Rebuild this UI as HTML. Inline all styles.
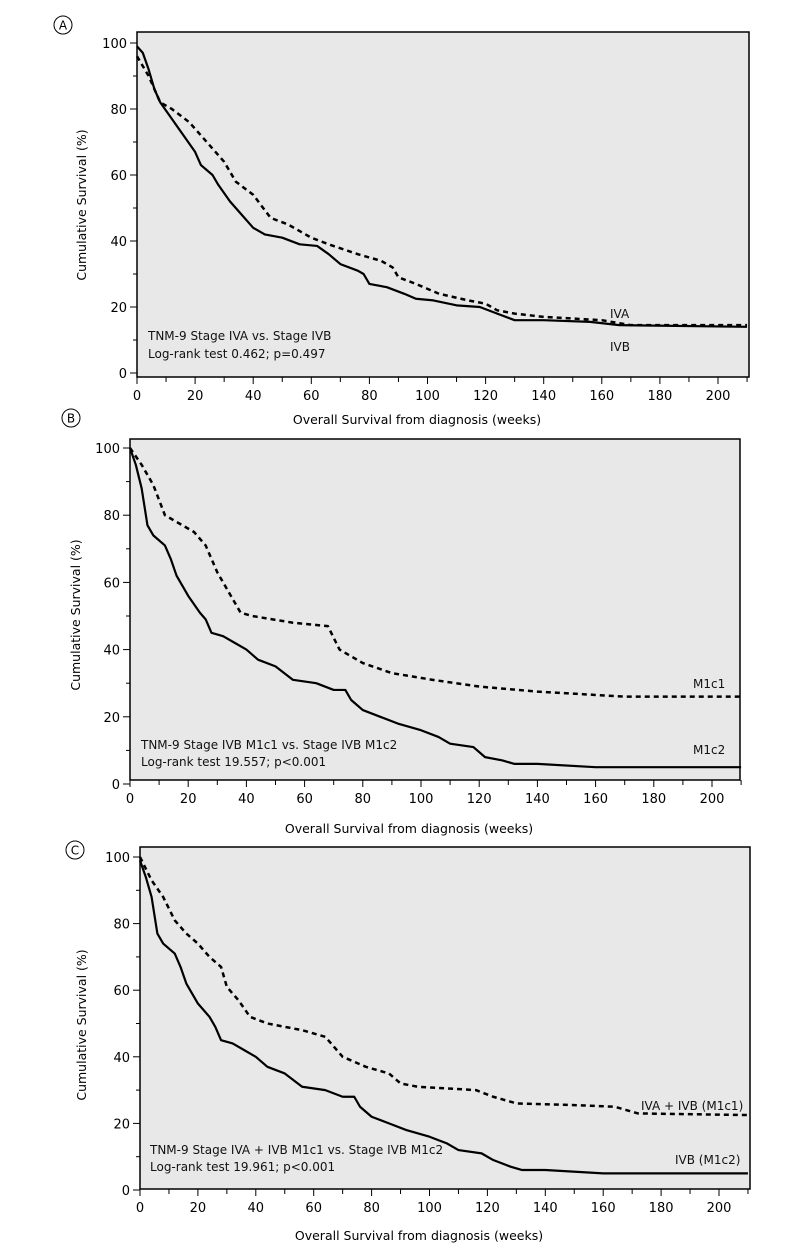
<!DOCTYPE html>
<html><head><meta charset="utf-8">
<style>
body{margin:0;background:#fff;}
svg{display:block;font-family:"DejaVu Sans","Liberation Sans",sans-serif;}
</style></head>
<body>
<svg id="chart" width="800" height="1249" viewBox="0 0 800 1249"></svg>
<script>
// Panel A data
const weeksA_IVB = [0,2,4,6,8,12,16,20,22,26,28,32,36,40,44,50,56,62,66,70,76,78,80,86,92,96,102,110,118,124,130,140,156,166,210];
const survA_IVB = [99,97,92,86,82,77,72,67,63,60,57,52,48,44,42,41,39,38.5,36,33,31,30,27,26,24,22.5,22,20.5,20,18,16,16,15.5,14.5,14];
const weeksA_IVA = [0,4,8,12,18,24,30,34,40,46,52,60,66,76,84,88,90,96,104,114,120,124,130,140,150,160,170,210];
const survA_IVA = [96,90,82,80,76,70,64,58,54,47,45,41,39,36,34,32,29,27,24,22,21,19,18,17,16.5,16,14.5,14.5];
// Panel B data
const weeksB_M1c2 = [0,2,4,6,8,12,14,16,20,24,26,28,32,36,40,44,50,56,64,70,74,76,80,86,92,100,106,110,118,122,128,132,140,160,210];
const survB_M1c2 = [100,95,88,77,74,71,67,62,56,51,49,45,44,42,40,37,35,31,30,28,28,25,22,20,18,16,14,12,11,8,7,6,6,5,5];
const weeksB_M1c1 = [0,4,8,12,16,22,26,30,34,38,42,56,68,72,80,90,104,120,140,170,210];
const survB_M1c1 = [100,95,89,80,78,75,71,63,57,51,50,48,47,40,36,33,31,29,27.5,26,26];
// Panel C data
const weeksC_M1c2 = [0,2,4,6,8,12,14,16,20,24,26,28,32,36,40,44,50,56,64,70,74,76,80,86,92,100,106,110,118,122,128,132,140,160,210];
const survC_M1c2 = [99,94,88,77,74,71,67,62,56,52,49,45,44,42,40,37,35,31,30,28,28,25,22,20,18,16,14,12,11,9,7,6,6,5,5];
const weeksC_M1c1 = [0,4,8,12,16,20,24,28,30,34,38,44,56,64,70,78,86,90,96,116,122,130,150,164,172,210];
const survC_M1c1 = [100,93,88,81,77,74,70,67,61,57,52,50,48,46,40,37,35,32,31,30,28,26,25.5,25,23,22.5];
const xTicks = [0,20,40,60,80,100,120,140,160,180,200];
const yTicks = [0,20,40,60,80,100];

const NS="http://www.w3.org/2000/svg";
const svg=document.getElementById('chart');
function mk(tag,attrs,parent){const e=document.createElementNS(NS,tag);for(const k in attrs)e.setAttribute(k,attrs[k]);(parent||svg).appendChild(e);return e;}

const panels=[
 {id:'a',letter:'A',L:137,R:749,T:32,B:377,y100:43,y0:373,x200:718,cx:63,cy:25,ytx:86,ytY:205,xtY:424,
  series:[[weeksA_IVB,survA_IVB,false,'ivb-curve'],[weeksA_IVA,survA_IVA,true,'iva-curve']],
  ann:[['TNM-9 Stage IVA vs. Stage IVB',148,340],['Log-rank test 0.462; p=0.497',148,358]],
  labels:[['IVA',610,318,'iva-label'],['IVB',610,351,'ivb-label']]},
 {id:'b',letter:'B',L:130,R:740,T:439,B:780,y100:448,y0:784,x200:712,cx:71,cy:418,ytx:80,ytY:615,xtY:833,
  series:[[weeksB_M1c2,survB_M1c2,false,'m1c2-curve'],[weeksB_M1c1,survB_M1c1,true,'m1c1-curve']],
  ann:[['TNM-9 Stage IVB M1c1 vs. Stage IVB M1c2',141,749],['Log-rank test 19.557; p<0.001',141,766]],
  labels:[['M1c1',693,688,'m1c1-label'],['M1c2',693,754,'m1c2-label']]},
 {id:'c',letter:'C',L:140,R:750,T:847,B:1189,y100:857,y0:1190,x200:719,cx:75,cy:850,ytx:86,ytY:1025,xtY:1240,
  series:[[weeksC_M1c2,survC_M1c2,false,'ivb-m1c2-curve'],[weeksC_M1c1,survC_M1c1,true,'iva-ivb-m1c1-curve']],
  ann:[['TNM-9 Stage IVA + IVB M1c1 vs. Stage IVB M1c2',150,1154],['Log-rank test 19.961; p<0.001',150,1171]],
  labels:[['IVA + IVB (M1c1)',641,1110,'iva-ivb-m1c1-label'],['IVB (M1c2)',675,1164,'ivb-m1c2-label']]}
];

panels.forEach(p=>{
 const g=mk('g',{});
 
 
 const X=w=>p.L+(w/200)*(p.x200-p.L);
 const Y=v=>p.y0+(v/100)*(p.y100-p.y0);
 const bg=mk('rect',{x:p.L,y:p.T,width:p.R-p.L,height:p.B-p.T,fill:'#e8e8e8',stroke:'#000','stroke-width':1.5},g);
 
 
 for(let v=0;v<=100;v+=10){
  const maj=v%20===0;
  mk('line',{x1:p.L-(maj?7:4),x2:p.L,y1:Y(v),y2:Y(v),stroke:'#000','stroke-width':1},g);
 }
 yTicks.forEach(v=>{
  const t=mk('text',{x:p.L-10,y:Y(v)+5,'text-anchor':'end','font-size':13,fill:'#000'},g);
  t.textContent=v;
  
  
 });
 for(let w=0;w<=210;w+=10){
  const maj=w%20===0;
  mk('line',{x1:X(w),x2:X(w),y1:p.B,y2:p.B+(maj?7:5),stroke:'#000','stroke-width':1},g);
 }
 xTicks.forEach(w=>{
  const t=mk('text',{x:X(w),y:p.B+23,'text-anchor':'middle','font-size':13,fill:'#000'},g);
  t.textContent=w;
  
  
 });
 p.series.forEach(s=>{
  const [ws,vs,dash,name]=s;
  let d='M'+X(ws[0])+','+Y(vs[0]);
  for(let i=1;i<ws.length;i++)d+=' L'+X(ws[i])+','+Y(vs[i]);
  const path=mk('path',{d:d,fill:'none',stroke:'#000','stroke-width':dash?2.5:2.2,'stroke-dasharray':dash?'5,4':'none','stroke-linejoin':'round'},g);
  
  
 });
 p.ann.forEach(a=>{
  const t=mk('text',{x:a[1],y:a[2],'font-size':12,fill:'#111'},g);
  t.textContent=a[0];
  
  
 });
 p.labels.forEach(a=>{
  const t=mk('text',{x:a[1],y:a[2],'font-size':12,fill:'#111'},g);
  t.textContent=a[0];
  
  
 });
 const yt=mk('text',{x:0,y:0,transform:'translate('+p.ytx+','+p.ytY+') rotate(-90)','text-anchor':'middle','font-size':12.5,fill:'#000'},g);
 yt.textContent='Cumulative Survival (%)';
 
 
 const xt=mk('text',{x:(p.L+p.R)/2-26,y:p.xtY,'text-anchor':'middle','font-size':12.5,fill:'#000'},g);
 xt.textContent='Overall Survival from diagnosis (weeks)';
 
 
 const c=mk('circle',{cx:p.cx,cy:p.cy,r:9,fill:'#fff',stroke:'#000','stroke-width':1},g);
 
 
 const ct=mk('text',{x:p.cx,y:p.cy+4.5,'text-anchor':'middle','font-size':12,fill:'#000'},g);
 ct.textContent=p.letter;
 
 
});
</script>
</body></html>
